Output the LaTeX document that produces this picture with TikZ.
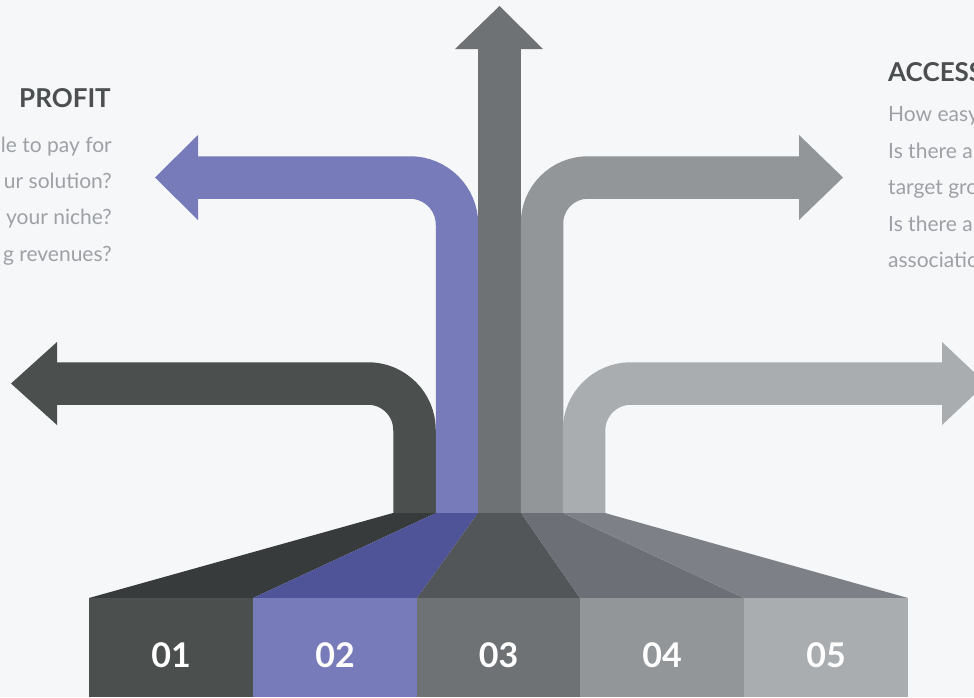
\documentclass[tikz,border=0pt]{standalone}
\usepackage{fontspec}
\setmainfont{Lato}
\definecolor{bg}{HTML}{F6F7F9}
\definecolor{cA}{HTML}{4B4F4E}
\definecolor{cB}{HTML}{787BB9}
\definecolor{cC}{HTML}{6F7275}
\definecolor{cD}{HTML}{929699}
\definecolor{cE}{HTML}{A9ADB0}
\definecolor{fA}{HTML}{383B3B}
\definecolor{fB}{HTML}{4F5498}
\definecolor{fC}{HTML}{535659}
\definecolor{fD}{HTML}{6C6F76}
\definecolor{fE}{HTML}{7D8187}
\definecolor{ttl}{HTML}{4B4F4E}
\definecolor{bdy}{HTML}{9DA1A5}
\begin{document}
\begin{tikzpicture}[x=1pt,y=-1pt,
  shaft/.style={line width=42.5pt},
  ttlL/.style={anchor=base east,inner sep=0pt,text=ttl,font=\fontsize{26}{30}\selectfont\bfseries},
  ttlR/.style={anchor=base west,inner sep=0pt,text=ttl,font=\fontsize{26}{30}\selectfont\bfseries},
  bodyL/.style={anchor=base east,inner sep=0pt,text=bdy,font=\fontsize{21}{25}\selectfont},
  bodyR/.style={anchor=base west,inner sep=0pt,text=bdy,font=\fontsize{21}{25}\selectfont},
  numlbl/.style={anchor=base,inner sep=0pt,text=white,font=\fontsize{34}{40}\selectfont\bfseries}]
\useasboundingbox (0,0) rectangle (974,697);
\clip (0,0) rectangle (974,697);
\fill[bg] (0,0) rectangle (974,697);

% arrow 01
\draw[shaft,cA,rounded corners=46.5pt] (414.5,514) -- (414.5,383.5) -- (56,383.5);
\fill[cA] (57,342) -- (11,383.5) -- (57,425) -- cycle;
% arrow 02
\draw[shaft,cB,rounded corners=47pt] (457,514) -- (457,177.5) -- (197,177.5);
\fill[cB] (198,135) -- (155,177.5) -- (198,220) -- cycle;
% arrow 03
\draw[shaft,cC] (499.5,514) -- (499.5,48);
\fill[cC] (455,49) -- (499.5,6) -- (543,49) -- cycle;
% arrow 04
\draw[shaft,cD,rounded corners=46pt] (542,514) -- (542,177.5) -- (800,177.5);
\fill[cD] (799,135) -- (843,177.5) -- (799,220) -- cycle;
% arrow 05
\draw[shaft,cE,rounded corners=47pt] (584,514) -- (584,383.5) -- (943,383.5);
\fill[cE] (942,342) -- (986,383.5) -- (942,425) -- cycle;

% top faces
\fill[fA] (393,513) -- (436,513) -- (253,598) -- (89,598) -- cycle;
\fill[fB] (436,513) -- (478,513) -- (417,598) -- (253,598) -- cycle;
\fill[fC] (478,513) -- (521,513) -- (580,598) -- (417,598) -- cycle;
\fill[fD] (521,513) -- (563,513) -- (744,598) -- (580,598) -- cycle;
\fill[fE] (563,513) -- (605,513) -- (908,598) -- (744,598) -- cycle;

% boxes
\fill[cA] (89,598) rectangle (253,697);
\fill[cB] (253,598) rectangle (417,697);
\fill[cC] (417,598) rectangle (580,697);
\fill[cD] (580,598) rectangle (744,697);
\fill[cE] (744,598) rectangle (908,697);
\node[numlbl] (n1) at (171,667) {01};
\node[numlbl] (n2) at (335,667) {02};
\node[numlbl] (n3) at (498.5,667) {03};
\node[numlbl] (n4) at (662,667) {04};
\node[numlbl] (n5) at (826,667) {05};

% left text
\node[ttlL] (t1) at (111,107) {PROFIT};
\node[bodyL] (l1) at (112,152) {le to pay for};
\node[bodyL] (l2) at (112,188) {ur solution?};
\node[bodyL] (l3) at (112,224) {your niche?};
\node[bodyL] (l4) at (112,261) {g revenues?};

% right text
\node[ttlR] (t2) at (888,81) {ACCESS};
\node[bodyR] (r1) at (888,121) {How easy};
\node[bodyR] (r2) at (888,158) {Is there a};
\node[bodyR] (r3) at (888,194) {target gro};
\node[bodyR] (r4) at (888,231) {Is there a};
\node[bodyR] (r5) at (888,267) {associatio};
\end{tikzpicture}
\end{document}
